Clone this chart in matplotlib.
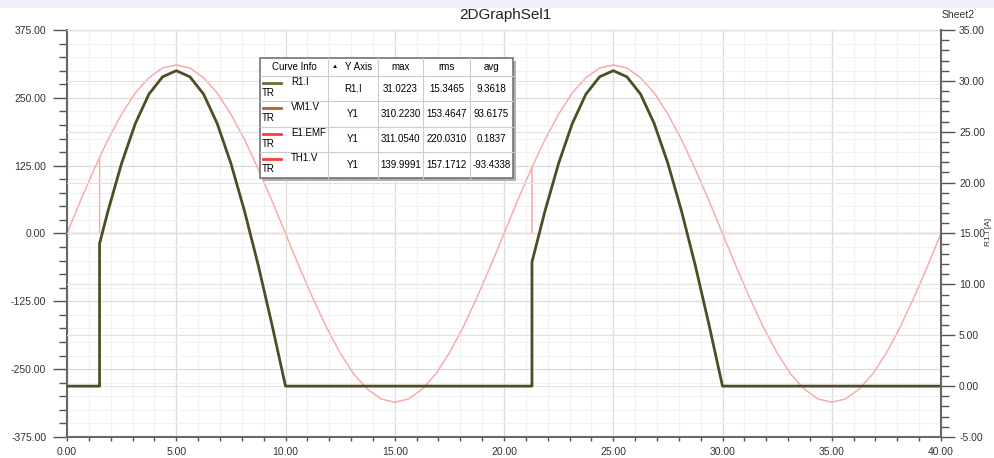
import numpy as np
import matplotlib
matplotlib.use('Agg')
import matplotlib.pyplot as plt
from matplotlib.ticker import MultipleLocator, FormatStrFormatter
from matplotlib.patches import Rectangle

plt.rcParams['font.family'] = ['Liberation Sans', 'DejaVu Sans']

# E1.EMF source voltage [V], sampled every 0.625 s
e1_time = [0.0, 0.625, 1.25, 1.875, 2.5, 3.125, 3.75, 4.375, 5.0, 5.625, 6.25, 6.875,
           7.5, 8.125, 8.75, 9.375, 10.0, 10.625, 11.25, 11.875, 12.5, 13.125, 13.75,
           14.375, 15.0, 15.625, 16.25, 16.875, 17.5, 18.125, 18.75, 19.375, 20.0,
           20.625, 21.25, 21.875, 22.5, 23.125, 23.75, 24.375, 25.0, 25.625, 26.25,
           26.875, 27.5, 28.125, 28.75, 29.375, 30.0, 30.625, 31.25, 31.875, 32.5,
           33.125, 33.75, 34.375, 35.0, 35.625, 36.25, 36.875, 37.5, 38.125, 38.75,
           39.375, 40.0]
e1_emf = [0, 61, 119, 173, 220, 259, 287, 305, 311, 305, 287, 259, 220, 173, 119, 61,
          0, -61, -119, -173, -220, -259, -287, -305, -311, -305, -287, -259, -220, -173,
          -119, -61, 0, 61, 119, 173, 220, 259, 287, 305, 311, 305, 287, 259, 220, 173,
          119, 61, 0, -61, -119, -173, -220, -259, -287, -305, -311, -305, -287, -259,
          -220, -173, -119, -61, 0]

# R1.I load current [A] and VM1.V load voltage [V] (thyristor conducting)
load_time = [0.0, 1.49, 1.49, 1.875, 2.5, 3.125, 3.75, 4.375, 5.0, 5.625, 6.25, 6.875,
             7.5, 8.125, 8.75, 9.375, 10.0, 21.28, 21.28, 21.875, 22.5, 23.125, 23.75,
             24.375, 25.0, 25.625, 26.25, 26.875, 27.5, 28.125, 28.75, 29.375, 30.0, 40.0]
r1_i = [0, 0, 14.0, 17.2, 21.9, 25.8, 28.7, 30.4, 31.0, 30.4, 28.7, 25.8, 21.9, 17.2,
        11.9, 6.1, 0, 0, 12.2, 17.2, 21.9, 25.8, 28.7, 30.4, 31.0, 30.4, 28.7, 25.8,
        21.9, 17.2, 11.9, 6.1, 0, 0]
vm1_v = [0, 0, 140, 173, 220, 259, 287, 305, 310, 305, 287, 259, 220, 173, 119, 61, 0,
         0, 122, 173, 220, 259, 287, 305, 310, 305, 287, 259, 220, 173, 119, 61, 0, 0]

# TH1.V thyristor voltage [V]
th1_time = [0.0, 0.625, 1.25, 1.49, 1.49, 10.0, 10.625, 11.25, 11.875, 12.5, 13.125,
            13.75, 14.375, 15.0, 15.625, 16.25, 16.875, 17.5, 18.125, 18.75, 19.375,
            20.0, 20.625, 21.25, 21.28, 21.28, 30.0, 30.625, 31.25, 31.875, 32.5,
            33.125, 33.75, 34.375, 35.0, 35.625, 36.25, 36.875, 37.5, 38.125, 38.75,
            39.375, 40.0]
th1_v = [0, 61, 119, 140, 0, 0, -61, -119, -173, -220, -259, -287, -305, -311, -305,
         -287, -259, -220, -173, -119, -61, 0, 61, 119, 122, 0, 0, -61, -119, -173,
         -220, -259, -287, -305, -311, -305, -287, -259, -220, -173, -119, -61, 0]

# Curve info table
curve_names = ['R1.I', 'VM1.V', 'E1.EMF', 'TH1.V']
curve_colors = ['#6b6b3b', '#b3612e', '#ff3b3b', '#ff3b3b']
curve_axis = ['R1.I', 'Y1', 'Y1', 'Y1']
curve_max = ['31.0223', '310.2230', '311.0540', '139.9991']
curve_rms = ['15.3465', '153.4647', '220.0310', '157.1712']
curve_avg = ['9.3618', '93.6175', '0.1837', '-93.4338']

W, H = 994, 458
fig = plt.figure(figsize=(W / 100, H / 100), dpi=100)
ax = fig.add_axes([67 / W, 1 - 437 / H, (941 - 67) / W, (437 - 30) / H])
ax2 = ax.twinx()

pink = '#f7b0b0'
ax.plot(e1_time, e1_emf, color=pink, lw=0.9)
ax.plot(load_time, vm1_v, color=pink, lw=0.9)
ax.plot(th1_time, th1_v, color=pink, lw=0.9)
ax2.plot(load_time, r1_i, color='#4d4d26', lw=2.0, solid_joinstyle='round')

ax.set_xlim(0, 40)
ax.set_ylim(-375, 375)
ax2.set_ylim(-5, 35)
ax.xaxis.set_major_locator(MultipleLocator(5))
ax.xaxis.set_minor_locator(MultipleLocator(1))
ax.yaxis.set_major_locator(MultipleLocator(125))
ax.yaxis.set_minor_locator(MultipleLocator(25))
ax2.yaxis.set_major_locator(MultipleLocator(5))
ax2.yaxis.set_minor_locator(MultipleLocator(1))
for a in (ax.xaxis, ax.yaxis, ax2.yaxis):
    a.set_major_formatter(FormatStrFormatter('%.2f'))

ax.set_axisbelow(True)
ax.grid(which='minor', color='#f1f1f1', lw=0.8)
ax.grid(which='major', color='#dcdcdc', lw=0.9)
ax2.set_axisbelow(True)
ax2.grid(which='major', axis='y', color='#e2e2e2', lw=0.8)

tc = '#555555'
ax.tick_params(axis='y', which='major', length=10, width=1, color=tc, pad=5,
               labelsize=7.5, labelcolor='#333333')
ax.tick_params(axis='y', which='minor', length=5.5, width=1, color=tc)
ax.tick_params(axis='x', which='both', length=3, width=1, color=tc, pad=4,
               labelsize=7.5, labelcolor='#333333')
ax2.tick_params(axis='y', which='major', length=10, width=1, color=tc, pad=3,
                labelsize=7.5, labelcolor='#333333')
ax2.tick_params(axis='y', which='minor', length=5.5, width=1, color=tc)

for s in ['left', 'bottom']:
    ax.spines[s].set_color('#666666')
    ax.spines[s].set_linewidth(1.5)
ax.spines['top'].set_color('#8a8a8a')
ax.spines['right'].set_visible(False)
for s in ['left', 'bottom', 'top']:
    ax2.spines[s].set_visible(False)
ax2.spines['right'].set_color('#666666')
ax2.spines['right'].set_linewidth(1.5)

# overlay in pixel coordinates for title strip and curve info table
ov = fig.add_axes([0, 0, 1, 1])
ov.set_xlim(0, W)
ov.set_ylim(H, 0)
ov.axis('off')
ov.add_patch(Rectangle((0, 0), W, 8, color='#eef2f7', lw=0))
ov.text(505, 15, '2DGraphSel1', ha='center', va='center', fontsize=11, color='#222222')
ov.text(958, 15, 'Sheet2', ha='center', va='center', fontsize=7.5, color='#333333')
ov.text(989, 232, 'R1.I [A]', ha='center', va='center', rotation=90, fontsize=6,
        color='#333333')

col_x = [260, 328, 378, 423, 470, 513]
row_y = [58, 76, 101, 127, 152, 178]
ov.add_patch(Rectangle((col_x[0] + 3, row_y[0] + 3), col_x[-1] - col_x[0],
                       row_y[-1] - row_y[0], color='#b0b0b0', lw=0))
ov.add_patch(Rectangle((col_x[0], row_y[0]), col_x[-1] - col_x[0],
                       row_y[-1] - row_y[0], facecolor='white', edgecolor='#6a6a6a', lw=1.1))
for x in col_x[1:-1]:
    ov.plot([x, x], [row_y[0], row_y[-1]], color='#cccccc', lw=0.8)
for y in row_y[1:-1]:
    ov.plot([col_x[0], col_x[-1]], [y, y], color='#cccccc', lw=0.8)

fs = 7
hy = (row_y[0] + row_y[1]) / 2
ov.text((col_x[0] + col_x[1]) / 2, hy, 'Curve Info', ha='center', va='center', fontsize=fs)
ov.text(335, hy, '\u25B2', ha='center', va='center', fontsize=4.5)
ov.text(359, hy, 'Y Axis', ha='center', va='center', fontsize=fs)
for j, lab in enumerate(['max', 'rms', 'avg']):
    ov.text((col_x[j + 2] + col_x[j + 3]) / 2, hy, lab, ha='center', va='center', fontsize=fs)

for i, name in enumerate(curve_names):
    top = row_y[i + 1]
    bot = row_y[i + 2]
    cy = (top + bot) / 2
    ov.plot([263, 281], [top + 7, top + 7], color=curve_colors[i], lw=2)
    ov.text(291, top + 6, name, ha='left', va='center', fontsize=fs)
    ov.text(262, top + 17, 'TR', ha='left', va='center', fontsize=fs)
    vals = [curve_axis[i], curve_max[i], curve_rms[i], curve_avg[i]]
    for j, v in enumerate(vals):
        ov.text((col_x[j + 1] + col_x[j + 2]) / 2, cy, v, ha='center', va='center',
                fontsize=fs)

plt.savefig('out.png', dpi=100)
